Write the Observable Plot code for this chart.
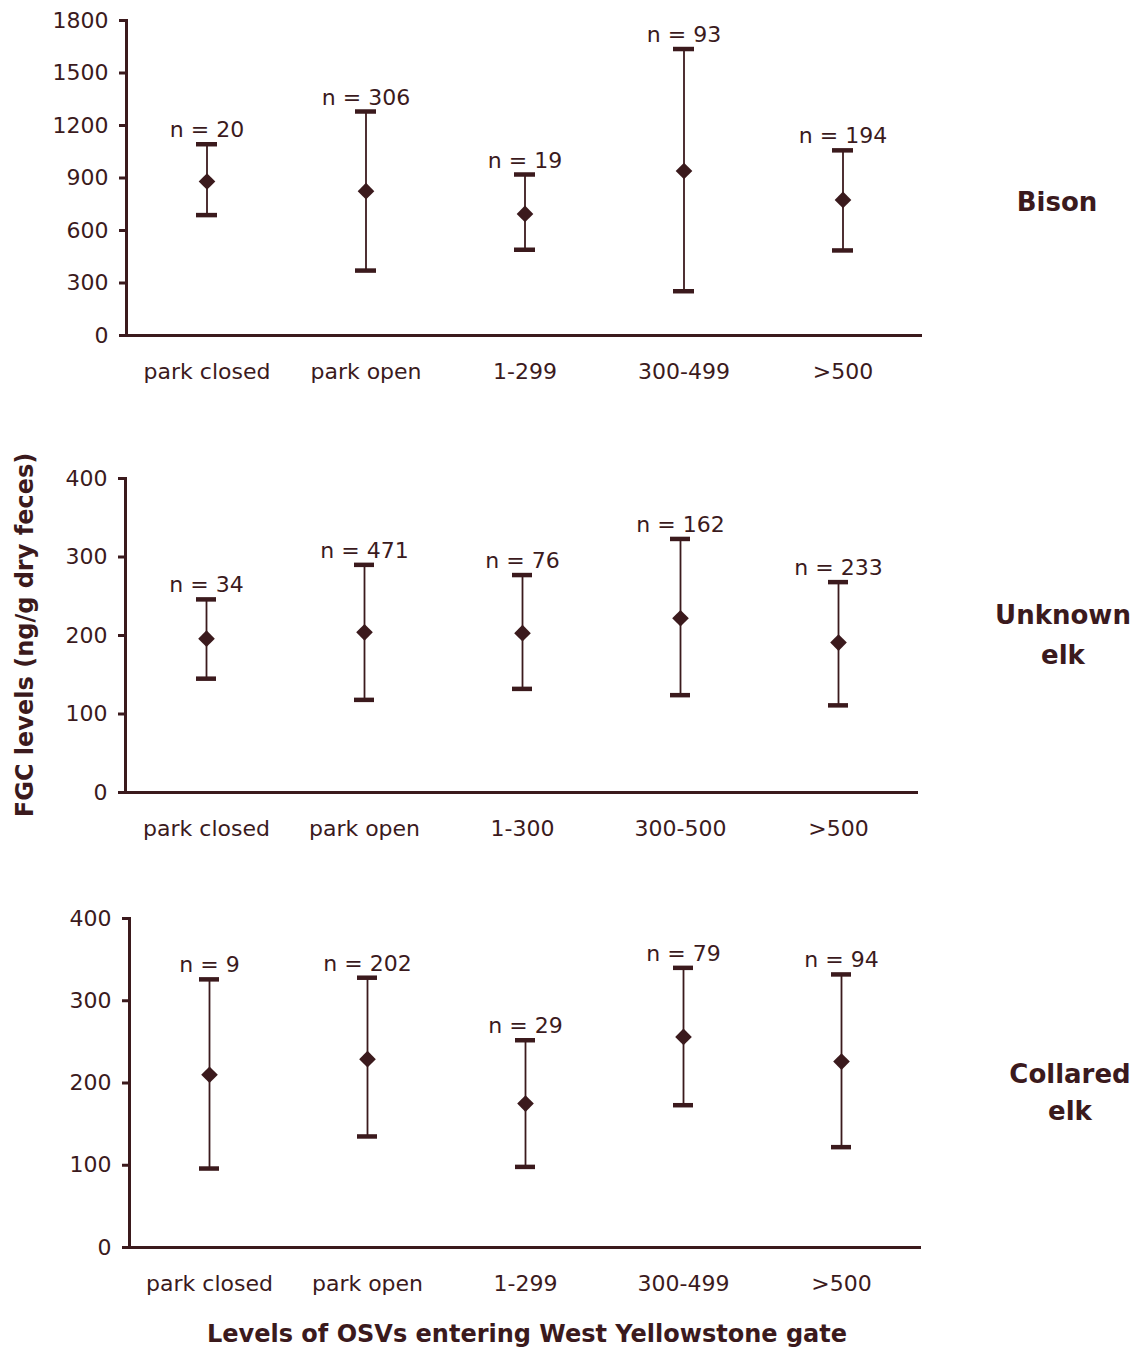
<!DOCTYPE html>
<html><head><meta charset="utf-8">
<script src="https://cdn.jsdelivr.net/npm/d3@7"></script>
<script src="https://cdn.jsdelivr.net/npm/@observablehq/plot@0.6"></script>
<style>
body{margin:0;background:#fff;}
#wrap{position:relative;width:1140px;height:1348px;font-family:"DejaVu Sans",sans-serif;color:#3b1a1d;overflow:hidden;}
.panel{position:absolute;left:0;}
.lab{position:absolute;font-weight:bold;text-align:center;white-space:nowrap;transform:translate(-50%,-50%);}
</style></head><body><div id="wrap"></div>
<script>
const bisonCategories = ["park closed","park open","1-299","300-499",">500"];
const bisonMean = [880,825,695,940,775];
const bisonLow = [688,371,490,253,486];
const bisonHigh = [1093,1280,920,1637,1058];
const bisonN = [20,306,19,93,194];
const bisonTicks = [0,300,600,900,1200,1500,1800];

const unknownCategories = ["park closed","park open","1-300","300-500",">500"];
const unknownMean = [196,204,203,222,191];
const unknownLow = [145,118,132,124,111];
const unknownHigh = [246,290,277,323,268];
const unknownN = [34,471,76,162,233];

const collaredCategories = ["park closed","park open","1-299","300-499",">500"];
const collaredMean = [210,229,175,256,226];
const collaredLow = [96,135,98,173,122];
const collaredHigh = [326,328,252,340,332];
const collaredN = [9,202,29,79,94];

const elkTicks = [0,100,200,300,400];
const panelLabels = ["Bison", "Unknown\nelk", "Collared\nelk"];
const yTitle = "FGC levels (ng/g dry feces)";
const xTitle = "Levels of OSVs entering West Yellowstone gate";

const INK = "#3b1a1d";
const wrap = document.getElementById("wrap");

function panel(cats, mean, low, high, n, ticks, ymax, cfg) {
  const data = cats.map((c, i) => ({cat: c, mean: mean[i], lo: low[i], hi: high[i], n: n[i]}));
  const height = cfg.marginTop + cfg.inner + cfg.marginBottom;
  const chart = Plot.plot({
    width: 1140,
    height,
    marginLeft: cfg.left,
    marginRight: 1140 - cfg.right,
    marginTop: cfg.marginTop,
    marginBottom: cfg.marginBottom,
    style: {fontFamily: "DejaVu Sans, sans-serif", fontSize: "22px", color: INK, background: "transparent", overflow: "visible"},
    x: {domain: cats, padding: 0, axis: null},
    y: {domain: [0, ymax], axis: null},
    marks: [
      Plot.axisY({ticks, tickSize: 7, tickPadding: 11, tickFormat: d => String(d), fontSize: 22, stroke: INK, strokeWidth: 3, fill: INK, label: null}),
      Plot.axisX({tickSize: 0, tickPadding: 28, fontSize: 22, fill: INK, label: null}),
      Plot.frame({anchor: "left", stroke: INK, strokeWidth: 3}),
      Plot.ruleY([0], {stroke: INK, strokeWidth: 3}),
      Plot.ruleX(data, {x: "cat", y1: "lo", y2: "hi", stroke: INK, strokeWidth: 1.8}),
      Plot.tickY(data, {x: "cat", y: "hi", stroke: INK, strokeWidth: 4.5, insetLeft: 69, insetRight: 69}),
      Plot.tickY(data, {x: "cat", y: "lo", stroke: INK, strokeWidth: 4.5, insetLeft: 69, insetRight: 69}),
      Plot.dot(data, {x: "cat", y: "mean", symbol: "diamond2", r: 7.5, fill: INK, stroke: null}),
      Plot.text(data, {x: "cat", y: "hi", text: d => `n = ${d.n}`, dy: -14, fontSize: 22, fill: INK})
    ]
  });
  chart.classList.add("panel");
  chart.style.top = cfg.top + "px";
  wrap.appendChild(chart);
}

panel(bisonCategories, bisonMean, bisonLow, bisonHigh, bisonN, bisonTicks, 1800,
  {top: 0, marginTop: 20, inner: 315, marginBottom: 55, left: 126, right: 922});
panel(unknownCategories, unknownMean, unknownLow, unknownHigh, unknownN, elkTicks, 400,
  {top: 390, marginTop: 88, inner: 314, marginBottom: 55, left: 125, right: 918});
panel(collaredCategories, collaredMean, collaredLow, collaredHigh, collaredN, elkTicks, 400,
  {top: 847, marginTop: 71, inner: 329, marginBottom: 60, left: 129, right: 921});

function label(text, x, y, size, lh, rotate) {
  const d = document.createElement("div");
  d.className = "lab";
  d.style.left = x + "px";
  d.style.top = y + "px";
  d.style.fontSize = size + "px";
  d.style.lineHeight = lh + "px";
  if (rotate) d.style.transform = "translate(-50%,-50%) rotate(-90deg)";
  d.innerHTML = text.split("\n").join("<br>");
  wrap.appendChild(d);
}
label(panelLabels[0], 1057, 202, 26, 39);
label(panelLabels[1], 1063, 635, 26, 40);
label(panelLabels[2], 1070, 1093, 26, 37);
label(yTitle, 25, 635, 24, 30, true);
label(xTitle, 527, 1334, 24, 30);
</script></body></html>
